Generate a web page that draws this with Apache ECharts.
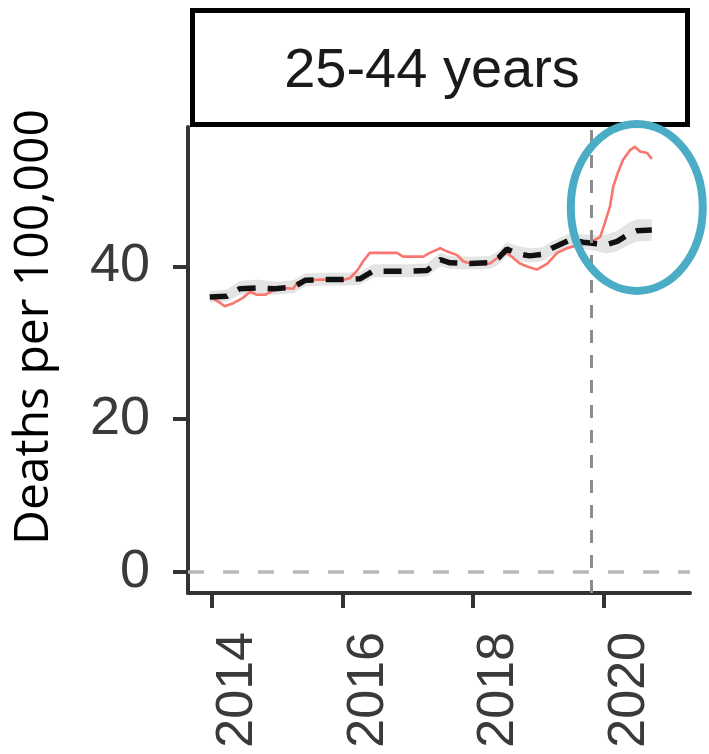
<!DOCTYPE html>
<html>
<head>
<meta charset="utf-8">
<script src="https://cdn.jsdelivr.net/npm/echarts@6/dist/echarts.min.js"></script>
<style>
  html, body { margin: 0; padding: 0; background: #fff; }
  #chart { width: 709px; height: 754px; }
</style>
</head>
<body>
<div id="chart"></div>
<script>
// ---- data ----
const panelTitle = '25-44 years';
const yAxisTitle = 'Deaths per 100,000';
const xTickValues = [2014, 2016, 2018, 2020];
const yTickValues = [0, 20, 40];
const pandemicStart = 2019.82;

// observed deaths (red line)
const obsX = [2014.00, 2014.10, 2014.20, 2014.33, 2014.48, 2014.59, 2014.69, 2014.82, 2014.97, 2015.12,
              2015.25, 2015.31, 2015.43, 2015.70, 2016.00, 2016.12, 2016.24, 2016.32, 2016.42, 2016.60,
              2016.84, 2016.93, 2017.10, 2017.24, 2017.34, 2017.50, 2017.60, 2017.76, 2017.85, 2017.96,
              2018.10, 2018.26, 2018.37, 2018.52, 2018.72, 2018.83, 2018.98, 2019.14, 2019.29, 2019.44,
              2019.60, 2019.79, 2019.95, 2020.02, 2020.10, 2020.15, 2020.22, 2020.30, 2020.41, 2020.48,
              2020.56, 2020.67, 2020.74];
const obsY = [35.9, 35.4, 34.8, 35.2, 35.9, 36.7, 36.3, 36.3, 37.0, 37.2,
              37.1, 37.9, 38.2, 38.3, 38.2, 38.5, 39.6, 40.7, 41.8, 41.8,
              41.8, 41.3, 41.3, 41.3, 41.8, 42.4, 42.0, 41.5, 40.7, 40.4,
              40.4, 40.4, 41.1, 41.8, 40.4, 40.0, 39.6, 40.4, 41.8, 42.4,
              42.8, 43.1, 43.9, 45.7, 47.9, 50.5, 52.3, 54.0, 55.3, 55.7,
              55.1, 54.9, 54.1];

// expected deaths (black dashed line) and its interval (grey ribbon)
const expX = [2013.97, 2014.23, 2014.43, 2014.69, 2014.97, 2015.25, 2015.43, 2015.71, 2016.00, 2016.27,
              2016.47, 2016.73, 2016.99, 2017.30, 2017.50, 2017.65, 2017.96, 2018.26, 2018.40, 2018.52,
              2018.68, 2018.87, 2019.06, 2019.21, 2019.49, 2019.69, 2019.90, 2020.05, 2020.21, 2020.40,
              2020.51, 2020.74];
const expY = [36.0, 36.1, 37.1, 37.2, 37.1, 37.3, 38.2, 38.3, 38.3, 38.4,
              39.4, 39.4, 39.4, 39.5, 40.9, 40.5, 40.4, 40.5, 41.2, 42.3,
              41.7, 41.4, 41.6, 42.4, 43.5, 43.2, 43.0, 42.9, 43.3, 44.3,
              44.7, 44.8];
const expLo = [35.3, 35.4, 36.3, 36.4, 36.3, 36.5, 37.4, 37.5, 37.5, 37.6,
               38.6, 38.6, 38.6, 38.7, 40.0, 39.7, 39.6, 39.7, 40.3, 41.4,
               40.8, 40.5, 40.7, 41.5, 42.6, 42.3, 42.0, 41.7, 42.0, 42.9,
               43.3, 43.4];
const expHi = [36.8, 37.0, 38.1, 38.3, 38.0, 38.2, 39.1, 39.2, 39.2, 39.3,
               40.3, 40.3, 40.3, 40.4, 41.8, 41.4, 41.3, 41.4, 42.1, 43.2,
               42.7, 42.4, 42.5, 43.3, 44.4, 44.2, 44.1, 44.2, 44.7, 45.8,
               46.2, 46.2];

// highlighted region (annotation ellipse centre in data units)
const highlightCenter = [2020.51, 47.76];

// ---- chart ----
const chart = echarts.init(document.getElementById('chart'), null, { renderer: 'canvas' });
const axisColor = '#333333';
const labelFont = '"Liberation Sans", Arial, sans-serif';

const option = {
  animation: false,
  backgroundColor: '#ffffff',
  grid: { left: 188, right: 19, top: 127, bottom: 161, containLabel: false, outerBoundsMode: 'none' },
  xAxis: {
    type: 'value',
    min: 2013.637,
    max: 2021.325,
    splitLine: { show: false },
    axisLine: { show: true, onZero: false, lineStyle: { color: axisColor, width: 4 } },
    axisTick: { show: true, customValues: xTickValues, length: 15, lineStyle: { color: axisColor, width: 4 } },
    axisLabel: {
      customValues: xTickValues,
      rotate: 90,
      margin: 39,
      fontSize: 52,
      fontFamily: labelFont,
      color: '#3a3a3a',
      verticalAlign: 'top',
      formatter: v => String(Math.round(v))
    }
  },
  yAxis: {
    type: 'value',
    min: -2.8,
    max: 58.3,
    splitLine: { show: false },
    axisLine: { show: true, onZero: false, lineStyle: { color: axisColor, width: 4 } },
    axisTick: { show: true, customValues: yTickValues, length: 15, lineStyle: { color: axisColor, width: 4 } },
    axisLabel: {
      customValues: yTickValues,
      margin: 38,
      fontSize: 54,
      fontFamily: labelFont,
      color: '#3a3a3a',
      padding: [14, 0, 0, 0],
      formatter: v => String(Math.round(v))
    }
  },
  series: [
    {
      name: 'interval',
      type: 'custom',
      silent: true,
      z: 1,
      data: [[expX[0], expY[0]]],
      renderItem: function (params, api) {
        const pts = [];
        for (let i = 0; i < expX.length; i++) pts.push(api.coord([expX[i], expHi[i]]));
        for (let i = expX.length - 1; i >= 0; i--) pts.push(api.coord([expX[i], expLo[i]]));
        return {
          type: 'polygon',
          shape: { points: pts },
          style: { fill: 'rgba(150,150,150,0.26)', stroke: 'none' }
        };
      }
    },
    {
      name: 'Observed',
      type: 'line',
      z: 2,
      symbol: 'none',
      silent: true,
      data: obsX.map((x, i) => [x, obsY[i]]),
      lineStyle: { color: '#F8766D', width: 2.6 },
      markLine: {
        silent: true,
        symbol: 'none',
        label: { show: false },
        data: [
          { xAxis: pandemicStart, lineStyle: { color: '#8c8c8c', width: 3, type: [13, 12] } },
          { yAxis: 0, lineStyle: { color: '#b8b8b8', width: 3.5, type: [16, 19] } }
        ]
      }
    },
    {
      name: 'Expected',
      type: 'line',
      z: 3,
      symbol: 'none',
      silent: true,
      data: expX.map((x, i) => [x, expY[i]]),
      lineStyle: { color: '#111111', width: 5.5, type: [18, 12], cap: 'butt' }
    }
  ],
  graphic: [
    {
      type: 'rect',
      z: 10,
      shape: { x: 192.5, y: 10.5, width: 495, height: 114 },
      style: { fill: '#ffffff', stroke: '#000000', lineWidth: 5 }
    },
    {
      type: 'text',
      z: 11,
      x: 432,
      y: 72,
      style: {
        text: panelTitle,
        fill: '#1a1a1a',
        font: '56px "Liberation Sans", Arial, sans-serif',
        textAlign: 'center',
        textVerticalAlign: 'middle'
      }
    },
    {
      type: 'text',
      z: 11,
      x: 34,
      y: 327,
      rotation: Math.PI / 2,
      style: {
        text: yAxisTitle,
        fill: '#000000',
        font: '48px "Open Sans", sans-serif',
        textAlign: 'center',
        textVerticalAlign: 'middle'
      }
    }
  ]
};

chart.setOption(option);

// annotation ellipse anchored on the data coordinates
const c = chart.convertToPixel({ xAxisIndex: 0, yAxisIndex: 0 }, highlightCenter);
chart.setOption({
  graphic: [
    {
      id: 'highlight',
      type: 'ellipse',
      z: 20,
      shape: { cx: c[0], cy: c[1], rx: 66, ry: 83.5 },
      style: { fill: 'none', stroke: '#4BACC6', lineWidth: 8 }
    }
  ]
});
</script>
</body>
</html>
